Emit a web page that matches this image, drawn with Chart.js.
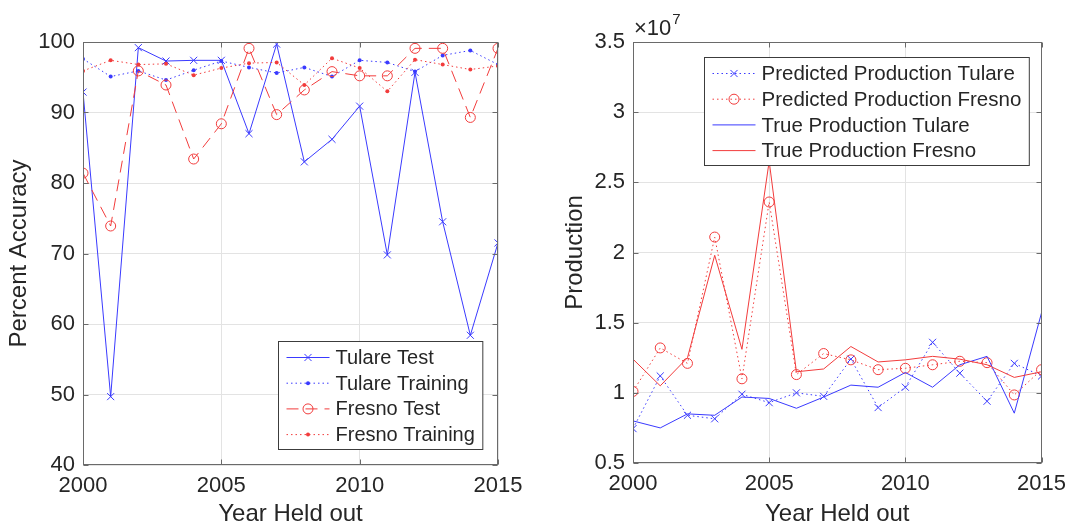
<!DOCTYPE html>
<html>
<head>
<meta charset="utf-8">
<script src="https://cdn.jsdelivr.net/npm/chart.js@4"></script>
<style>
  body { margin: 0; background: #fff; }
  #wrap { position: relative; width: 1074px; height: 529px; }
  canvas { position: absolute; top: 0; }
</style>
</head>
<body>
<div id="wrap">
  <canvas id="accChart" width="537" height="529" style="left:0"></canvas>
  <canvas id="prodChart" width="537" height="529" style="left:537px"></canvas>
</div>
<script>
// Year held out (x axis for both panels)
const years = [2000, 2001, 2002, 2003, 2004, 2005, 2006, 2007, 2008, 2009, 2010, 2011, 2012, 2013, 2014, 2015];

// Left panel: percent accuracy
const tulareTest     = [92.9, 49.7, 99.2, 97.3, 97.4, 97.4, 87.0, 99.7, 83.0, 86.2, 90.9, 69.8, 95.7, 74.5, 58.4, 71.5];
const tulareTraining = [97.6, 95.1, 95.9, 94.6, 96.0, 97.3, 96.4, 95.6, 96.4, 95.1, 97.4, 97.1, 95.8, 98.1, 98.8, 96.8];
const fresnoTest     = [81.4, 73.9, 95.9, 93.9, 83.4, 88.4, 99.1, 89.7, 93.2, 95.8, 95.2, 95.2, 99.1, 99.1, 89.3, 99.1];
const fresnoTraining = [95.9, 97.4, 96.8, 96.9, 95.3, 96.3, 97.0, 97.1, 93.9, 97.7, 96.3, 93.0, 97.5, 96.8, 96.1, 96.6];

// Right panel: production (units of 1e7)
const predTulare = [0.745, 1.12, 0.84, 0.815, 0.99, 0.93, 1.00, 0.975, 1.24, 0.895, 1.04, 1.36, 1.14, 0.94, 1.21, 1.12];
const predFresno = [1.01, 1.32, 1.21, 2.11, 1.10, 2.36, 1.13, 1.28, 1.235, 1.165, 1.175, 1.20, 1.225, 1.215, 0.985, 1.165];
const trueTulare = [0.80, 0.75, 0.85, 0.84, 0.97, 0.96, 0.89, 0.97, 1.055, 1.04, 1.145, 1.04, 1.20, 1.26, 0.855, 1.57];
const trueFresno = [1.24, 1.05, 1.25, 1.98, 1.31, 2.65, 1.15, 1.17, 1.33, 1.22, 1.235, 1.26, 1.24, 1.20, 1.11, 1.15];

const accTicks = [40, 50, 60, 70, 80, 90, 100];
const prodTicks = [0.5, 1, 1.5, 2, 2.5, 3, 3.5];

const BLUE = '#3a3aff';
const RED = '#f23c3c';
const TXT = '#262626';
const FONT = '"Liberation Sans", Arial, Helvetica, sans-serif';
const DOT = [1.5, 3];
const DASH = [12, 7];

const pts = arr => arr.map((v, i) => ({ x: years[i], y: v }));

function series(label, data, color, dash, marker, order) {
  const big = marker !== 'dot';
  return {
    label: label,
    data: pts(data),
    borderColor: color,
    borderWidth: 1,
    borderDash: dash,
    pointStyle: big ? marker : 'circle',
    pointRadius: big ? 5 : 2,
    pointBorderColor: color,
    pointBorderWidth: big ? 1 : 0,
    pointBackgroundColor: big ? 'rgba(0,0,0,0)' : color,
    fill: false,
    tension: 0,
    order: order
  };
}

// box + inward ticks, matlab style
const frame = {
  id: 'frame',
  afterDatasetsDraw(chart) {
    const { ctx, chartArea: a, scales: { x, y } } = chart;
    const L = Math.round(a.left) + 0.5, R = Math.round(a.right) - 0.5;
    const T = Math.round(a.top) + 0.5, B = Math.round(a.bottom) - 0.5;
    ctx.save();
    ctx.strokeStyle = '#6a6a6a';
    ctx.lineWidth = 1;
    ctx.strokeRect(L, T, R - L, B - T);
    ctx.beginPath();
    x.ticks.forEach(t => {
      const px = Math.round(x.getPixelForValue(t.value)) + 0.5;
      ctx.moveTo(px, B); ctx.lineTo(px, B - 5);
      ctx.moveTo(px, T); ctx.lineTo(px, T + 5);
    });
    y.ticks.forEach(t => {
      const py = Math.round(y.getPixelForValue(t.value)) + 0.5;
      ctx.moveTo(L, py); ctx.lineTo(L + 5, py);
      ctx.moveTo(R, py); ctx.lineTo(R - 5, py);
    });
    ctx.stroke();
    ctx.restore();
  }
};

// legend drawn inside the axes
const boxLegend = {
  id: 'boxLegend',
  afterDraw(chart, args, opts) {
    const { ctx, chartArea: a } = chart;
    const sets = chart.data.datasets;
    ctx.save();
    ctx.font = opts.size + 'px ' + FONT;
    let tw = 0;
    sets.forEach(d => { tw = Math.max(tw, ctx.measureText(d.label).width); });
    const rowH = 25.7;
    const w = 8 + 43 + 6 + tw + 8;
    const h = 108;
    const bx = Math.round(a.right - opts.right - w) + 0.5;
    const by = opts.top != null ? Math.round(a.top + opts.top) + 0.5 : Math.round(a.bottom - opts.bottom - h) + 0.5;
    ctx.fillStyle = '#fff';
    ctx.fillRect(bx, by, w, h);
    ctx.strokeStyle = '#3c3c3c';
    ctx.lineWidth = 1;
    ctx.strokeRect(bx, by, w, h);
    sets.forEach((d, i) => {
      const cy = by + 16 + i * rowH;
      const x0 = bx + 8, x1 = bx + 51;
      ctx.strokeStyle = d.borderColor;
      ctx.lineWidth = 1;
      ctx.setLineDash(d.borderDash || []);
      ctx.beginPath();
      ctx.moveTo(x0, cy); ctx.lineTo(x1, cy);
      ctx.stroke();
      ctx.setLineDash([]);
      if (d.pointRadius > 0) {
        ctx.fillStyle = d.pointBackgroundColor;
        ctx.strokeStyle = d.pointBorderColor;
        ctx.lineWidth = d.pointBorderWidth || 1;
        Chart.helpers.drawPoint(ctx, {
          pointStyle: d.pointStyle,
          radius: d.pointRadius,
          rotation: 0,
          borderWidth: d.pointBorderWidth
        }, (x0 + x1) / 2, cy);
      }
      ctx.fillStyle = TXT;
      ctx.textBaseline = 'middle';
      ctx.textAlign = 'left';
      ctx.fillText(d.label, x1 + 6, cy + 1);
    });
    ctx.restore();
  }
};

// x10^7 exponent label
const expLabel = {
  id: 'expLabel',
  afterDraw(chart) {
    const { ctx, chartArea: a } = chart;
    ctx.save();
    ctx.fillStyle = TXT;
    ctx.textBaseline = 'alphabetic';
    ctx.textAlign = 'left';
    ctx.font = '22px ' + FONT;
    const s = '\u00d710';
    ctx.fillText(s, a.left + 1, a.top - 7);
    const w = ctx.measureText(s).width;
    ctx.font = '15px ' + FONT;
    ctx.fillText('7', a.left + 1 + w + 1, a.top - 18);
    ctx.restore();
  }
};

function axes(ticks, yTitle, yWidth, xHeight, titlePad) {
  return {
    x: {
      type: 'linear',
      min: years[0],
      max: years[years.length - 1],
      afterFit: s => { s.height = xHeight; },
      border: { display: false },
      grid: { color: '#e3e3e3', drawTicks: false },
      ticks: {
        stepSize: 5,
        padding: 8,
        color: TXT,
        font: { family: FONT, size: 22 },
        maxRotation: 0,
        callback: v => String(v)
      },
      title: { display: true, text: 'Year Held out', color: TXT, font: { family: FONT, size: 24 }, padding: { top: 0, bottom: 0 } }
    },
    y: {
      min: ticks[0],
      max: ticks[ticks.length - 1],
      afterFit: s => { s.width = yWidth; },
      afterBuildTicks: s => { s.ticks = ticks.map(v => ({ value: v })); },
      border: { display: false },
      grid: { color: '#e3e3e3', drawTicks: false },
      ticks: { padding: 8, color: TXT, font: { family: FONT, size: 22 }, callback: v => String(v) },
      title: { display: true, text: yTitle, color: TXT, font: { family: FONT, size: 24 }, padding: { top: titlePad, bottom: 0 } }
    }
  };
}

Chart.defaults.font.family = FONT;

new Chart(document.getElementById('accChart'), {
  type: 'line',
  data: {
    datasets: [
      series('Tulare Test', tulareTest, BLUE, [], 'crossRot', 3),
      series('Tulare Training', tulareTraining, BLUE, DOT, 'dot', 2),
      series('Fresno Test', fresnoTest, RED, DASH, 'circle', 1),
      series('Fresno Training', fresnoTraining, RED, DOT, 'dot', 0)
    ]
  },
  options: {
    responsive: false,
    animation: false,
    layout: { padding: { top: 42, right: 39, left: 0, bottom: 0 } },
    scales: axes(accTicks, 'Percent Accuracy', 83, 64, 5),
    plugins: {
      legend: { display: false },
      tooltip: { enabled: false },
      boxLegend: { size: 20, right: 16, bottom: 16 }
    }
  },
  plugins: [frame, boxLegend]
});

new Chart(document.getElementById('prodChart'), {
  type: 'line',
  data: {
    datasets: [
      series('Predicted Production Tulare', predTulare, BLUE, DOT, 'crossRot', 3),
      series('Predicted Production Fresno', predFresno, RED, DOT, 'circle', 2),
      Object.assign(series('True Production Tulare', trueTulare, BLUE, [], 'dot', 1), { pointRadius: 0 }),
      Object.assign(series('True Production Fresno', trueFresno, RED, [], 'dot', 0), { pointRadius: 0 })
    ]
  },
  options: {
    responsive: false,
    animation: false,
    layout: { padding: { top: 42, right: 29, left: 0, bottom: 0 } },
    scales: axes(prodTicks, 'Production', 96, 66, 24),
    plugins: {
      legend: { display: false },
      tooltip: { enabled: false },
      boxLegend: { size: 20.5, right: 13, top: 15 }
    }
  },
  plugins: [frame, boxLegend, expLabel]
});
</script>
</body>
</html>
